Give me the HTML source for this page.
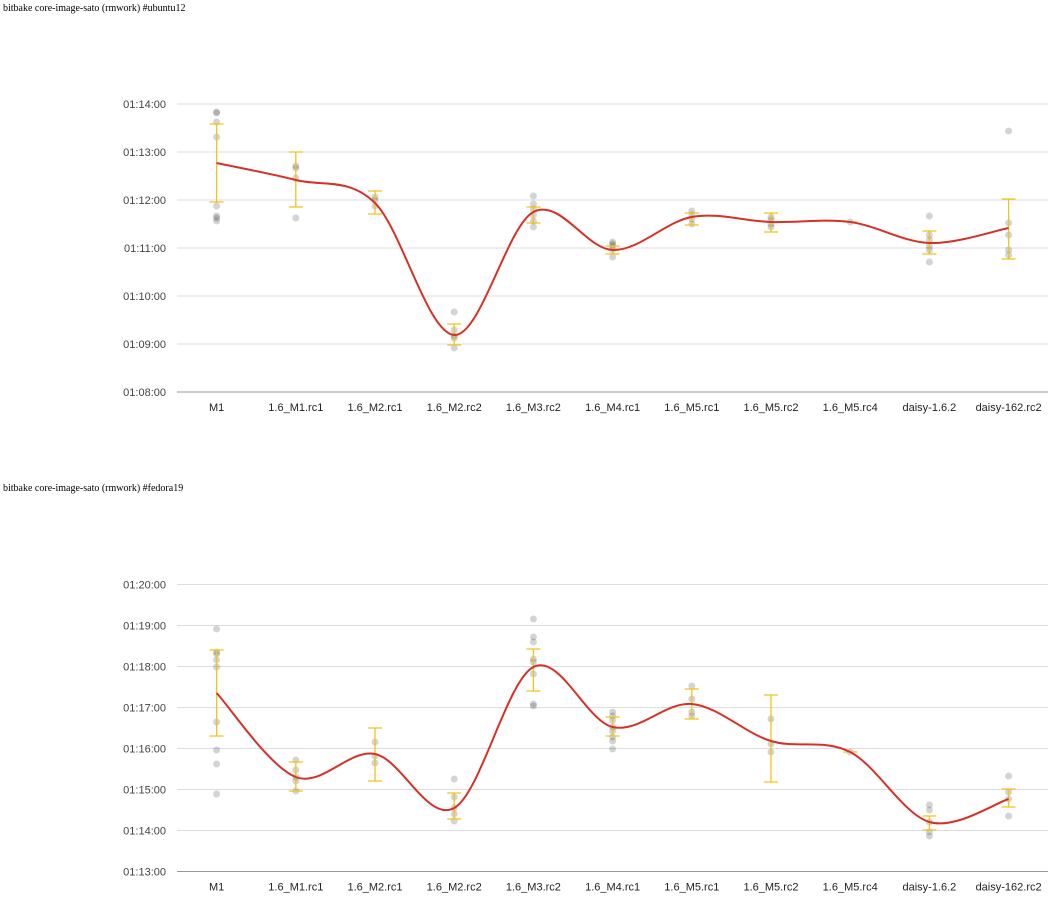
<!DOCTYPE html>
<html><head><meta charset="utf-8">
<style>
body{margin:0;background:#fff;width:1060px;height:905px;overflow:hidden;font-family:"Liberation Sans",sans-serif;}
.t{position:absolute;left:3px;font-family:"Liberation Serif",serif;font-size:10px;color:#000;}
svg{position:absolute;left:0;top:0;}
</style></head><body>
<div class="t" style="top:3px">bitbake core-image-sato (rmwork) #ubuntu12</div>
<div class="t" style="top:483px">bitbake core-image-sato (rmwork) #fedora19</div>
<svg id="s" width="1060" height="905" xmlns="http://www.w3.org/2000/svg"></svg>
<script>
var cats=["M1","1.6_M1.rc1","1.6_M2.rc1","1.6_M2.rc2","1.6_M3.rc2","1.6_M4.rc1","1.6_M5.rc1","1.6_M5.rc2","1.6_M5.rc4","daisy-1.6.2","daisy-162.rc2"];
function X(i){return 216.6+i*79.2;}
var charts=[
{ticks:["01:14:00","01:13:00","01:12:00","01:11:00","01:10:00","01:09:00","01:08:00"],top:104,step:48,
mean:[163,180,203,335,212,250,217,222,222,243,228],
err:[[124,202],[152,207],[191,214],[324,345],[207,223],[246,254],[213,225],[213,232],null,[231,254],[199,259]],
pts:[[112,113,122,137,206,216,218,221],[166,168,178,218],[197,200,206],[312,330,336,338,348],[196,204,209,215,221,227],[242,244,246,250,257],[211,215,219,224],[217,220,224,227],[222],[216,235,240,246,250,262],[131,223,235,250,255]]},
{ticks:["01:20:00","01:19:00","01:18:00","01:17:00","01:16:00","01:15:00","01:14:00","01:13:00"],top:584.5,step:41,
mean:[693,777,754,808,667,727,704,741,752,822,799],
err:[[650,736],[762,791],[728,781],[793,819],[649,691],[717,736],[689,719],[695,782],null,[816,830],[789,807]],
pts:[[629,652,654,660,667,722,750,764,794],[760,770,777,781,791],[742,756,763],[779,797,808,814,821],[619,637,642,659,662,674,704,706],[712,716,720,727,731,737,741,749],[686,699,712,716],[719,744,752],[752],[805,810,822,832,836],[776,792,799,816]]}
];
var h="";
charts.forEach(function(c){
  c.ticks.forEach(function(t,k){
    var y=c.top+k*c.step;
    var last=k==c.ticks.length-1;
    h+='<line x1="177" x2="1048" y1="'+y+'" y2="'+y+'" stroke="'+(last?'#999':'#ddd')+'" stroke-width="1"/>';
    h+='<text x="166" y="'+(y+4)+'" text-anchor="end" font-size="11" fill="#444" font-family="Liberation Sans">'+t+'</text>';
  });
  var ay=c.top+(c.ticks.length-1)*c.step;
  cats.forEach(function(n,i){h+='<text x="'+X(i)+'" y="'+(ay+19)+'" text-anchor="middle" font-size="11" fill="#222" font-family="Liberation Sans">'+n+'</text>';});
  c.pts.forEach(function(p,i){p.forEach(function(y){h+='<circle cx="'+X(i)+'" cy="'+y+'" r="3.5" fill="rgba(0,0,0,0.17)"/>';});});
  c.err.forEach(function(e,i){if(!e){h+='<line x1="'+(X(i)-7)+'" x2="'+(X(i)+7)+'" y1="'+c.mean[i]+'" y2="'+c.mean[i]+'" stroke="#f0c419" stroke-width="1.3"/>';return;}
    var x=X(i);h+='<path d="M'+(x-7)+' '+e[0]+'H'+(x+7)+'M'+x+' '+e[0]+'V'+e[1]+'M'+(x-7)+' '+e[1]+'H'+(x+7)+'" stroke="#f0c419" stroke-width="1.3" fill="none"/>';});
  var m=c.mean,d="M"+X(0)+" "+m[0];
  for(var i=0;i<m.length-1;i++){
    var x0=X(Math.max(i-1,0)),y0=m[Math.max(i-1,0)],x1=X(i),y1=m[i],x2=X(i+1),y2=m[i+1],x3=X(Math.min(i+2,m.length-1)),y3=m[Math.min(i+2,m.length-1)];
    var t=6;
    d+=" C"+(x1+(x2-x0)/t)+" "+(y1+(y2-y0)/t)+" "+(x2-(x3-x1)/t)+" "+(y2-(y3-y1)/t)+" "+x2+" "+y2;
  }
  h+='<path d="'+d+'" stroke="#d73027" stroke-width="2" fill="none"/>';
});
document.getElementById("s").innerHTML=h;
</script>
</body></html>
